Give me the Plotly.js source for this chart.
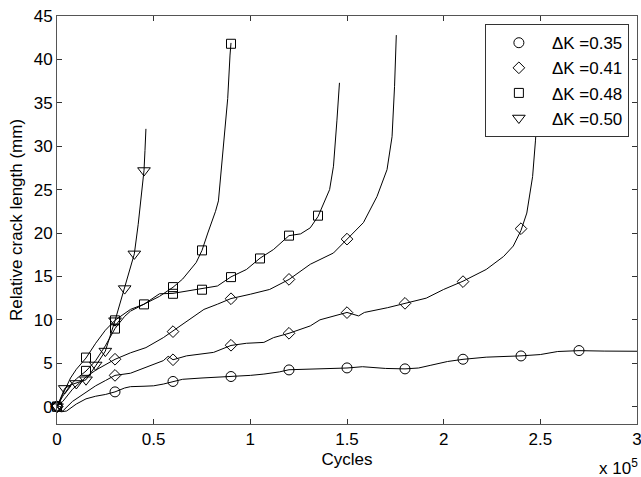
<!DOCTYPE html>
<html>
<head>
<meta charset="utf-8">
<script src="https://cdn.plot.ly/plotly-3.0.1.min.js"></script>
<style>html,body{margin:0;padding:0;background:#fff;}#chart{width:641px;height:477px;}</style>
</head>
<body>
<div id="chart"></div>
<script>
// x values in units of 10^5 cycles, y in mm
// ΔK = 0.35 (circles)
const c35LineX = [0, 0.02, 0.05, 0.1, 0.15, 0.2, 0.25, 0.3, 0.35, 0.38, 0.45, 0.5, 0.55, 0.6, 0.65, 0.75, 0.9, 1.0, 1.07, 1.15, 1.2, 1.31, 1.4, 1.5, 1.58, 1.7, 1.8, 1.87, 1.93, 2.02, 2.1, 2.22, 2.4, 2.5, 2.59, 2.7, 2.83, 3.0];
const c35LineY = [0, -0.6, -0.5, 0.3, 0.9, 1.2, 1.4, 1.7, 2.15, 2.3, 2.35, 2.4, 2.6, 2.9, 3.15, 3.3, 3.47, 3.6, 3.75, 4.0, 4.25, 4.3, 4.35, 4.45, 4.6, 4.4, 4.35, 4.45, 4.75, 5.2, 5.45, 5.7, 5.85, 6.0, 6.35, 6.45, 6.4, 6.38];
const c35MarkX = [0, 0.3, 0.6, 0.9, 1.2, 1.5, 1.8, 2.1, 2.4, 2.7];
const c35MarkY = [0, 1.7, 2.9, 3.47, 4.23, 4.46, 4.35, 5.46, 5.84, 6.46];

// ΔK = 0.41 (diamonds), specimen A
const d41aLineX = [0, 0.03, 0.08, 0.15, 0.2, 0.25, 0.3, 0.38, 0.46, 0.55, 0.575, 0.6, 0.67, 0.81, 0.9, 0.98, 1.07, 1.12, 1.2, 1.31, 1.36, 1.45, 1.5, 1.56, 1.59, 1.71, 1.8, 1.91, 2.0, 2.1, 2.22, 2.31, 2.36, 2.4, 2.43, 2.46, 2.475, 2.49, 2.5];
const d41aLineY = [0, -0.5, 0.6, 1.7, 2.4, 3.0, 3.6, 3.85, 4.5, 5.3, 5.8, 5.4, 5.85, 6.25, 7.05, 7.3, 7.4, 7.95, 8.45, 9.3, 10.0, 10.5, 10.85, 10.45, 10.85, 11.4, 11.9, 12.5, 13.5, 14.45, 15.8, 17.3, 18.5, 20.3, 22.3, 26.5, 30.7, 36, 44];
const d41aMarkX = [0, 0.3, 0.6, 0.9, 1.2, 1.5, 1.8, 2.1, 2.4];
const d41aMarkY = [0, 3.6, 5.4, 7.07, 8.45, 10.83, 11.9, 14.4, 20.5];

// ΔK = 0.41 (diamonds), specimen B
const d41bLineX = [0, 0.03, 0.08, 0.15, 0.2, 0.25, 0.3, 0.38, 0.46, 0.55, 0.6, 0.67, 0.76, 0.83, 0.9, 1.0, 1.1, 1.2, 1.31, 1.43, 1.5, 1.585, 1.655, 1.707, 1.733, 1.746, 1.755];
const d41bLineY = [0, 0.6, 2.0, 3.4, 4.2, 4.8, 5.45, 6.2, 6.8, 7.95, 8.7, 9.85, 11.2, 11.8, 12.45, 12.95, 13.5, 14.65, 16.4, 17.7, 19.3, 21.2, 24.2, 27.3, 31.1, 36.9, 42.8];
const d41bMarkX = [0, 0.3, 0.6, 0.9, 1.2, 1.5];
const d41bMarkY = [0, 5.46, 8.64, 12.43, 14.66, 19.3];

// ΔK = 0.48 (squares), specimen A
const s48aLineX = [0, 0.03, 0.07, 0.1, 0.15, 0.2, 0.25, 0.3, 0.35, 0.38, 0.45, 0.53, 0.6, 0.65, 0.72, 0.75, 0.78, 0.82, 0.835, 0.86, 0.883, 0.895, 0.9];
const s48aLineY = [0, 1.5, 3.3, 4.3, 5.6, 7.3, 8.8, 9.95, 10.8, 11.2, 11.8, 12.7, 13.75, 14.7, 16.6, 18.0, 20.0, 22.5, 23.7, 29.8, 35.5, 40.5, 41.9];
const s48aMarkX = [0, 0.15, 0.3, 0.45, 0.6, 0.75, 0.9];
const s48aMarkY = [0, 5.65, 9.94, 11.78, 13.77, 18.0, 41.8];

// ΔK = 0.48 (squares), specimen B
const s48bLineX = [0, 0.03, 0.07, 0.1, 0.15, 0.2, 0.25, 0.3, 0.35, 0.38, 0.45, 0.53, 0.6, 0.67, 0.75, 0.83, 0.9, 0.98, 1.05, 1.12, 1.2, 1.26, 1.31, 1.35, 1.41, 1.43, 1.448, 1.461];
const s48bLineY = [0, 1.2, 2.5, 3.2, 4.1, 5.3, 7.0, 9.0, 10.4, 11.0, 11.8, 13.0, 13.05, 13.3, 13.55, 13.9, 14.95, 15.8, 17.1, 18.1, 19.7, 19.9, 20.6, 21.9, 25.0, 27.7, 33.0, 37.3];
const s48bMarkX = [0, 0.15, 0.3, 0.6, 0.75, 0.9, 1.05, 1.2, 1.35];
const s48bMarkY = [0, 4.12, 8.99, 13.0, 13.47, 14.92, 17.07, 19.7, 22.0];

// ΔK = 0.50 (down triangles)
const t50LineX = [0, 0.04, 0.07, 0.1, 0.15, 0.2, 0.25, 0.3, 0.32, 0.347, 0.37, 0.4, 0.42, 0.44, 0.45, 0.455, 0.46];
const t50LineY = [0, 2.1, 2.5, 2.7, 3.1, 4.7, 6.4, 9.9, 11.5, 13.6, 15.5, 17.6, 21, 25, 27.2, 29.5, 32];
const t50MarkX = [0, 0.04, 0.1, 0.15, 0.2, 0.25, 0.3, 0.35, 0.4, 0.45];
const t50MarkY = [0, 2.1, 2.67, 3.1, 4.8, 6.4, 9.9, 13.6, 17.6, 27.2];

const legendNames = ['ΔK =0.35', 'ΔK =0.41', 'ΔK =0.48', 'ΔK =0.50'];
const xTickVals = [0, 0.5, 1, 1.5, 2, 2.5, 3];
const xTickText = ['0', '0.5', '1', '1.5', '2', '2.5', '3'];
const yTickVals = [0, 5, 10, 15, 20, 25, 30, 35, 40, 45];

const FONT = 'Liberation Sans, Arial, Helvetica, sans-serif';
const lineStyle = {color: '#000', width: 1};

function lineTrace(x, y) {
  return {x: x, y: y, mode: 'lines', line: lineStyle, showlegend: false, hoverinfo: 'skip'};
}
function markTrace(x, y, sym, size, name, show) {
  return {x: x, y: y, mode: 'markers', name: name, showlegend: show,
    cliponaxis: false,
    marker: {symbol: sym, size: size, color: '#000', line: {color: '#000', width: 1}}};
}

const traces = [
  lineTrace(c35LineX, c35LineY),
  lineTrace(d41aLineX, d41aLineY),
  lineTrace(d41bLineX, d41bLineY),
  lineTrace(s48aLineX, s48aLineY),
  lineTrace(s48bLineX, s48bLineY),
  lineTrace(t50LineX, t50LineY),
  markTrace(c35MarkX, c35MarkY, 'circle-open', 10, legendNames[0], true),
  markTrace(d41aMarkX, d41aMarkY, 'diamond-open', 9, legendNames[1], true),
  markTrace(d41bMarkX, d41bMarkY, 'diamond-open', 9, legendNames[1], false),
  markTrace(s48aMarkX, s48aMarkY, 'square-open', 9, legendNames[2], true),
  markTrace(s48bMarkX, s48bMarkY, 'square-open', 9, legendNames[2], false),
  markTrace(t50MarkX, t50MarkY, 'triangle-down-open', 11, legendNames[3], true)
];

const axisCommon = {
  showgrid: false, zeroline: false, showline: true, linecolor: '#555', linewidth: 1,
  mirror: 'ticks', ticks: 'inside', ticklen: 5, tickcolor: '#333', tickwidth: 1,
  ticklabeloverflow: 'allow',
  tickfont: {family: FONT, size: 17, color: '#000'}
};

const layout = {
  width: 641, height: 477,
  margin: {l: 57, r: 4, t: 16, b: 53, pad: 0},
  paper_bgcolor: '#fff', plot_bgcolor: '#fff',
  font: {family: FONT, size: 17, color: '#000'},
  xaxis: Object.assign({}, axisCommon, {
    range: [0, 3], tickmode: 'array', tickvals: xTickVals, ticktext: xTickText,
    title: {text: 'Cycles', font: {family: FONT, size: 17, color: '#000'}, standoff: 4}
  }),
  yaxis: Object.assign({}, axisCommon, {
    range: [-2, 45], tickmode: 'array', tickvals: yTickVals,
    title: {text: 'Relative crack length (mm)', font: {family: FONT, size: 17, color: '#000'}, standoff: 6}
  }),
  legend: {
    x: 0.986, y: 0.98, xanchor: 'right', yanchor: 'top',
    bgcolor: '#fff', bordercolor: '#333', borderwidth: 1,
    font: {family: FONT, size: 17, color: '#000'},
    itemwidth: 56, tracegroupgap: 0
  },
  annotations: [{
    text: 'x 10<sup>5</sup>', xref: 'paper', yref: 'paper', x: 1.006, y: -0.105,
    xanchor: 'right', yanchor: 'middle', showarrow: false,
    font: {family: FONT, size: 17, color: '#000'}
  }],
  showlegend: true
};

Plotly.newPlot('chart', traces, layout, {displayModeBar: false, staticPlot: true});
</script>
</body>
</html>
